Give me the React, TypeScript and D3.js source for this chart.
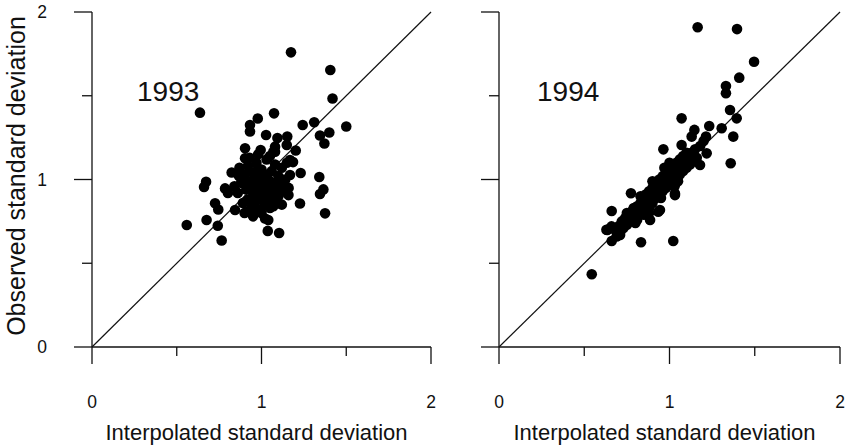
import React from "react";
import * as d3 from "d3";

const majorTicks = [0, 1, 2];
const minorTicks = [0.5, 1.5];
const tickLabels = ["0", "1", "2"];
const xTitle = "Interpolated standard deviation";
const yTitle = "Observed standard deviation";

// 1993 panel: [interpolated, observed]
const pts1993: [number, number][] = [
  [0.637, 1.399], [1.174, 1.759], [1.406, 1.654], [1.419, 1.484], [1.5, 1.316],
  [1.074, 1.395], [0.978, 1.364], [0.932, 1.325], [0.932, 1.287], [1.027, 1.266],
  [1.094, 1.248], [1.08, 1.196], [1.08, 1.166], [1.152, 1.256], [1.243, 1.325],
  [1.311, 1.342], [1.345, 1.263], [1.4, 1.281], [1.371, 1.215], [0.903, 1.186],
  [0.903, 1.127], [0.995, 1.176], [1.202, 1.173], [1.149, 1.206], [1.168, 1.116],
  [1.186, 1.104], [1.231, 1.039], [1.341, 1.015], [1.365, 0.941], [1.345, 0.913],
  [1.375, 0.798], [1.227, 0.857], [1.159, 0.907], [1.129, 0.973], [1.168, 1.027],
  [0.824, 1.042], [0.867, 1.021], [0.673, 0.987], [0.661, 0.955], [0.785, 0.947],
  [0.802, 0.919], [0.726, 0.858], [0.745, 0.821], [0.559, 0.728], [0.676, 0.758],
  [0.742, 0.724], [0.765, 0.636], [1.021, 0.767], [1.04, 0.758], [1.037, 0.693],
  [1.104, 0.681], [1.099, 0.858], [0.844, 0.818], [0.913, 0.808], [1.07, 1.166],
  [0.86, 0.92], [0.88, 0.98], [0.89, 0.86], [0.9, 1.03], [0.91, 0.94],
  [0.92, 0.88], [0.92, 1.08], [0.93, 0.99], [0.94, 0.83], [0.94, 0.95],
  [0.95, 1.04], [0.95, 0.9], [0.96, 1.0], [0.96, 0.86], [0.97, 0.93],
  [0.97, 1.1], [0.98, 0.97], [0.98, 0.82], [0.99, 1.02], [0.99, 0.89],
  [1.0, 0.95], [1.0, 1.06], [1.01, 0.91], [1.01, 0.99], [1.02, 0.85],
  [1.02, 1.03], [1.03, 0.94], [1.03, 1.12], [1.04, 0.88], [1.04, 1.0],
  [1.05, 0.96], [1.05, 0.83], [1.06, 1.05], [1.06, 0.92], [1.07, 0.98],
  [1.08, 0.87], [1.08, 1.09], [1.09, 0.94], [1.1, 1.02], [1.1, 0.9],
  [1.11, 0.97], [1.12, 1.07], [1.12, 0.85], [1.13, 0.93], [1.14, 1.0],
  [0.9, 0.8], [0.95, 0.78], [1.0, 0.8], [0.87, 1.07], [0.93, 1.13],
  [1.15, 1.1], [1.16, 0.95], [0.98, 1.15], [1.05, 1.14], [0.84, 0.96],
  [1.01, 0.87], [0.97, 1.05], [1.03, 0.9], [1.07, 0.84], [0.99, 0.93],
];

// 1994 panel: [interpolated, observed]
const pts1994: [number, number][] = [
  [1.165, 1.909], [1.396, 1.898], [1.496, 1.703], [1.409, 1.608], [1.331, 1.558],
  [1.331, 1.515], [1.071, 1.365], [1.355, 1.415], [1.394, 1.365], [1.306, 1.306],
  [1.374, 1.256], [1.359, 1.097], [1.233, 1.319], [1.214, 1.256], [1.146, 1.296],
  [1.13, 1.256], [0.964, 1.18], [1.071, 1.206], [1.218, 1.156], [1.179, 1.087],
  [0.774, 0.918], [0.661, 0.812], [0.635, 0.699], [0.661, 0.633], [0.833, 0.625],
  [1.022, 0.633], [0.544, 0.434], [1.032, 0.907], [0.944, 0.818], [0.934, 0.808],
  [0.886, 0.758], [0.71, 0.669], [1.032, 0.917],
  [0.68, 0.7], [0.7, 0.72], [0.71, 0.68], [0.72, 0.75], [0.73, 0.71],
  [0.74, 0.77], [0.75, 0.73], [0.76, 0.79], [0.77, 0.75], [0.78, 0.81],
  [0.78, 0.77], [0.79, 0.83], [0.8, 0.79], [0.81, 0.76], [0.81, 0.84],
  [0.82, 0.81], [0.83, 0.86], [0.84, 0.8], [0.84, 0.83], [0.85, 0.88],
  [0.86, 0.84], [0.86, 0.91], [0.87, 0.87], [0.88, 0.83], [0.88, 0.93],
  [0.89, 0.89], [0.9, 0.95], [0.9, 0.86], [0.91, 0.92], [0.92, 0.97],
  [0.92, 0.89], [0.93, 0.94], [0.94, 1.0], [0.94, 0.91], [0.95, 0.96],
  [0.96, 1.02], [0.96, 0.93], [0.97, 0.99], [0.98, 1.04], [0.98, 0.95],
  [0.99, 1.01], [1.0, 1.06], [1.0, 0.97], [1.01, 1.03], [1.02, 1.08],
  [1.02, 0.99], [1.03, 1.05], [1.04, 1.1], [1.04, 1.01], [1.05, 1.07],
  [1.06, 1.12], [1.06, 1.03], [1.07, 1.09], [1.08, 1.14], [1.08, 1.05],
  [1.09, 1.11], [1.1, 1.07], [1.11, 1.13], [1.12, 1.09], [1.13, 1.16],
  [1.14, 1.11], [1.15, 1.18], [1.16, 1.13], [1.18, 1.2], [1.2, 1.23],
  [0.75, 0.8], [0.8, 0.74], [0.85, 0.79], [0.9, 0.99], [0.95, 0.89],
  [1.0, 1.1], [1.05, 0.99], [1.1, 1.16], [0.83, 0.9], [0.88, 0.8],
  [0.97, 1.07], [1.03, 0.96], [0.63, 0.7], [0.66, 0.72], [0.69, 0.66],
];

const panels = [
  { label: "1993", data: pts1993, range: [92, 431], showY: true, labelX: 137 },
  { label: "1994", data: pts1994, range: [499, 840], showY: false, labelX: 537 },
];

const FONT = "'Liberation Sans', Arial, Helvetica, sans-serif";
const INK = "#111";

export default function App() {
  const y = d3.scaleLinear().domain([0, 2]).range([347, 12]);
  const MAJ = 17;
  const MIN = 9;
  return (
    <svg
      width={848}
      height={448}
      style={{ position: "absolute", left: 0, top: 0, background: "#fff" }}
      fontFamily={FONT}
    >
      <rect width={848} height={448} fill="#fff" />
      {panels.map((p, pi) => {
        const x = d3.scaleLinear().domain([0, 2]).range(p.range as [number, number]);
        const xl = x(0);
        return (
          <g key={pi}>
            {/* y axis */}
            <line x1={xl} x2={xl} y1={y(0)} y2={y(2)} stroke={INK} strokeWidth={1.3} />
            {majorTicks.map((t) => (
              <line key={"ym" + t} x1={xl - MAJ - 1} x2={xl} y1={y(t)} y2={y(t)} stroke={INK} strokeWidth={1.3} />
            ))}
            {minorTicks.map((t) => (
              <line key={"yn" + t} x1={xl - MIN - 1} x2={xl} y1={y(t)} y2={y(t)} stroke={INK} strokeWidth={1.3} />
            ))}
            {/* x axis */}
            <line x1={x(0)} x2={x(2)} y1={y(0)} y2={y(0)} stroke={INK} strokeWidth={1.3} />
            {majorTicks.map((t) => (
              <line key={"xm" + t} x1={x(t)} x2={x(t)} y1={y(0)} y2={y(0) + MAJ} stroke={INK} strokeWidth={1.3} />
            ))}
            {minorTicks.map((t) => (
              <line key={"xn" + t} x1={x(t)} x2={x(t)} y1={y(0)} y2={y(0) + MIN} stroke={INK} strokeWidth={1.3} />
            ))}
            {majorTicks.map((t, i) => (
              <text key={"xl" + t} x={x(t)} y={408} textAnchor="middle" fontSize={17.5} fill={INK}>
                {tickLabels[i]}
              </text>
            ))}
            {p.showY &&
              majorTicks.map((t, i) => (
                <text key={"yl" + t} x={42} y={y(t) + 6} textAnchor="middle" fontSize={17.5} fill={INK}>
                  {tickLabels[i]}
                </text>
              ))}
            {/* identity line */}
            <line x1={x(0)} y1={y(0)} x2={x(2)} y2={y(2)} stroke={INK} strokeWidth={1.2} />
            {/* points */}
            {p.data.map((d, i) => (
              <circle key={i} cx={x(d[0])} cy={y(d[1])} r={5.3} fill="#000" />
            ))}
            <text x={p.labelX} y={101} fontSize={28} fill={INK}>
              {p.label}
            </text>
            <text x={(x(0) + x(2)) / 2 - 5} y={440} textAnchor="middle" fontSize={22} fill={INK}>
              {xTitle}
            </text>
          </g>
        );
      })}
      <text
        transform={`translate(25,176) rotate(-90)`}
        textAnchor="middle"
        fontSize={25}
        fill={INK}
      >
        {yTitle}
      </text>
    </svg>
  );
}
